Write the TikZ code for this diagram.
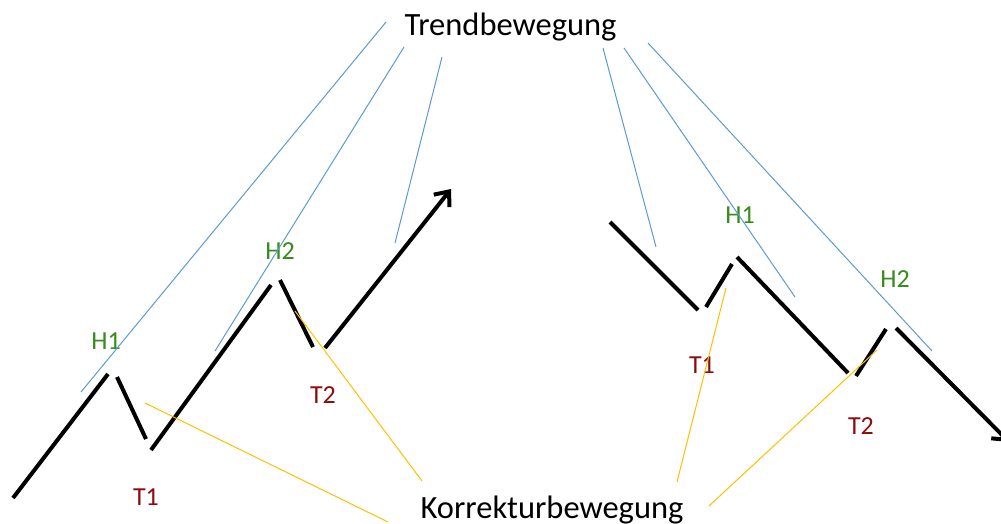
\documentclass[tikz,border=0pt]{standalone}
\usepackage{fontspec}
\setmainfont{Carlito}
\usetikzlibrary{arrows.meta}
\definecolor{trendblue}{RGB}{91,155,213}
\definecolor{korrorange}{RGB}{255,192,0}
\definecolor{hgreen}{RGB}{56,140,28}
\definecolor{tred}{RGB}{139,14,14}
\tikzset{
  wave/.style={line width=4pt, black},
  arrowwave/.style={wave, -{Straight Barb[length=12pt,width=20pt]}},
  trendline/.style={line width=1pt, trendblue},
  korrline/.style={line width=1pt, korrorange},
  bigtext/.style={inner sep=0pt, anchor=base, font=\fontsize{32.5}{39}\selectfont},
  hlabel/.style={inner sep=0pt, anchor=base, text=hgreen, font=\fontsize{26}{31}\selectfont},
  tlabel/.style={inner sep=0pt, anchor=base, text=tred, font=\fontsize{26}{31}\selectfont},
}
\begin{document}
\begin{tikzpicture}[x=1pt,y=-1pt]
\useasboundingbox (0,0) rectangle (1001,523);
\fill[white] (0,0) rectangle (1001,523);
\clip (0,0) rectangle (1001,523);
% texts
\node[bigtext] (trend) at (510.5,35) {Trendbewegung};
\node[bigtext] (korr) at (552,518) {Korrekturbewegung};
\node[hlabel] (lh1) at (106,349) {H1};
\node[hlabel] (lh2) at (280,259) {H2};
\node[tlabel] (lt1) at (146,505) {T1};
\node[tlabel] (lt2) at (323,403) {T2};
\node[hlabel] (rh1) at (740,223) {H1};
\node[tlabel] (rt1) at (702,373) {T1};
\node[hlabel] (rh2) at (895,287) {H2};
\node[tlabel] (rt2) at (861,434) {T2};
% left wave coordinates
\coordinate (a0) at (13,498);
\coordinate (a1) at (108,374);
\coordinate (a2) at (117,377);
\coordinate (a3) at (146,439);
\coordinate (a4) at (151,450);
\coordinate (a5) at (271,285);
\coordinate (a6) at (280,280);
\coordinate (a7) at (313,347);
\coordinate (a8) at (325,348);
\coordinate (a9) at (451,189);
% right wave coordinates
\coordinate (b0) at (610,222);
\coordinate (b1) at (698,310);
\coordinate (b2) at (706,307);
\coordinate (b3) at (732,264);
\coordinate (b4) at (737,257);
\coordinate (b5) at (848,373);
\coordinate (b6) at (856,376);
\coordinate (b7) at (886,329);
\coordinate (b8) at (896,328);
\coordinate (b9) at (1009,442);
\draw[wave] (a0) -- (a1);
\draw[wave] (a2) -- (a3);
\draw[wave] (a4) -- (a5);
\draw[wave] (a6) -- (a7);
\draw[arrowwave] (a8) -- (a9);
\draw[wave] (b0) -- (b1);
\draw[wave] (b2) -- (b3);
\draw[wave] (b4) -- (b5);
\draw[wave] (b6) -- (b7);
\draw[arrowwave] (b8) -- (b9);
% blue trend pointers
\coordinate (tl1s) at (386,22);  \coordinate (tl1e) at (81,392);
\coordinate (tl2s) at (404,47);  \coordinate (tl2e) at (215,351);
\coordinate (tl3s) at (442,57);  \coordinate (tl3e) at (395,243);
\coordinate (tr1s) at (603,48);  \coordinate (tr1e) at (656,247);
\coordinate (tr2s) at (624,48);  \coordinate (tr2e) at (795,297);
\coordinate (tr3s) at (648,43);  \coordinate (tr3e) at (932,351);
\draw[trendline] (tl1s) -- (tl1e);
\draw[trendline] (tl2s) -- (tl2e);
\draw[trendline] (tl3s) -- (tl3e);
\draw[trendline] (tr1s) -- (tr1e);
\draw[trendline] (tr2s) -- (tr2e);
\draw[trendline] (tr3s) -- (tr3e);
% orange correction pointers
\coordinate (k1s) at (145,403);  \coordinate (k1e) at (388,522);
\coordinate (k2s) at (295,311);  \coordinate (k2e) at (422,481);
\coordinate (k3s) at (726,288);  \coordinate (k3e) at (677,482);
\coordinate (k4s) at (877,350);  \coordinate (k4e) at (709,506);
\draw[korrline] (k1s) -- (k1e);
\draw[korrline] (k2s) -- (k2e);
\draw[korrline] (k3s) -- (k3e);
\draw[korrline] (k4s) -- (k4e);
\end{tikzpicture}
\end{document}
